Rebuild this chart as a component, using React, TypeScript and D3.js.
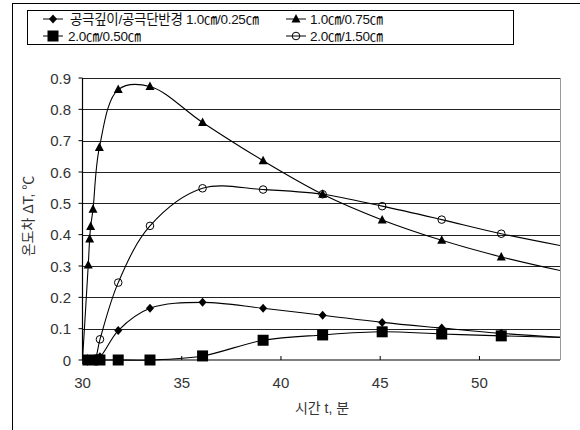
import * as d3 from "d3";

// 시간 (분) / 온도차 (℃)
const diamondT = [30, 30.33, 30.5, 30.88, 31.8, 33.4, 36.05, 39.1, 42.1, 45.1, 48.1, 51.1, 57];
const diamondV = [0, 0, 0, 0.01, 0.094, 0.165, 0.184, 0.165, 0.143, 0.12, 0.102, 0.085, 0.062];

const triangleT = [30, 30.29, 30.36, 30.41, 30.53, 30.85, 31.8, 33.4, 36.05, 39.1, 42.1, 45.1, 48.1, 51.1, 57];
const triangleV = [0, 0.303, 0.386, 0.426, 0.481, 0.678, 0.863, 0.873, 0.758, 0.636, 0.529, 0.447, 0.382, 0.329, 0.245];

const squareT = [30, 30.5, 30.88, 31.8, 33.4, 36.05, 39.1, 42.1, 45.1, 48.1, 51.1, 57];
const squareV = [0, 0, 0, 0, 0, 0.013, 0.063, 0.08, 0.09, 0.083, 0.077, 0.068];

const circleT = [30, 30.33, 30.6, 30.88, 31.8, 33.4, 36.05, 39.1, 42.1, 45.1, 48.1, 51.1, 57];
const circleV = [0, 0, 0, 0.066, 0.247, 0.428, 0.548, 0.544, 0.529, 0.491, 0.448, 0.403, 0.33];

const xTicks = [30, 35, 40, 45, 50];
const yTicks = [0, 0.1, 0.2, 0.3, 0.4, 0.5, 0.6, 0.7, 0.8, 0.9];

type Shape = "diamond" | "triangle" | "square" | "circle";
type Series = { name: string; shape: Shape; t: number[]; v: number[] };

const series: Series[] = [
  { name: "공극깊이/공극단반경 1.0㎝/0.25㎝", shape: "diamond", t: diamondT, v: diamondV },
  { name: "1.0㎝/0.75㎝", shape: "triangle", t: triangleT, v: triangleV },
  { name: "2.0㎝/0.50㎝", shape: "square", t: squareT, v: squareV },
  { name: "2.0㎝/1.50㎝", shape: "circle", t: circleT, v: circleV },
];

const W = 580;
const H = 430;
const plot = { left: 82.5, right: 560, top: 78, bottom: 360 };

const font = "'Liberation Sans', Arial, 'Noto Sans CJK KR', sans-serif";

function Marker({ shape, x, y }: { shape: Shape; x: number; y: number }) {
  if (shape === "diamond") {
    return <path d={`M${x},${y - 4.5}L${x + 4},${y}L${x},${y + 4.5}L${x - 4},${y}Z`} fill="#000" />;
  }
  if (shape === "triangle") {
    return <path d={`M${x},${y - 5}L${x + 4.5},${y + 3.5}L${x - 4.5},${y + 3.5}Z`} fill="#000" />;
  }
  if (shape === "square") {
    return <rect x={x - 5.5} y={y - 5.5} width={11} height={11} fill="#000" />;
  }
  return <circle cx={x} cy={y} r={3.8} fill="none" stroke="#000" strokeWidth={1} />;
}

export default function App() {
  const x = d3.scaleLinear().domain([30, 54.06]).range([plot.left, plot.right]);
  const y = d3.scaleLinear().domain([0, 0.9]).range([plot.bottom, plot.top]);

  const line = d3
    .line<[number, number]>()
    .x((d) => x(d[0]))
    .y((d) => y(d[1]))
    .curve(d3.curveCatmullRom.alpha(0.5));

  const legendPos = [
    { lx: 43, tx: 70, y: 19 },
    { lx: 286, tx: 310, y: 19 },
    { lx: 43, tx: 68, y: 36 },
    { lx: 286, tx: 310, y: 36 },
  ];

  return (
    <svg
      width={W}
      height={H}
      style={{ position: "absolute", left: 0, top: 0, background: "#fff" }}
      fontFamily={font}
    >
      <defs>
        <clipPath id="plotClip">
          <rect x={plot.left} y={plot.top - 10} width={plot.right - plot.left} height={plot.bottom - plot.top + 20} />
        </clipPath>
      </defs>

      {/* outer frame */}
      <rect x={12.5} y={3.5} width={700} height={600} fill="none" stroke="#000" />

      {/* legend */}
      <rect x={27.5} y={10.5} width={486} height={34} fill="#fff" stroke="#000" />
      {series.map((s, i) => {
        const p = legendPos[i];
        return (
          <g key={s.name}>
            <line x1={p.lx} x2={p.lx + 20} y1={p.y} y2={p.y} stroke="#000" />
            <Marker shape={s.shape} x={p.lx + 10} y={p.y} />
            <text x={p.tx} y={p.y + 5} fontSize={13.5} fill="#111" letterSpacing={-0.3}>
              {s.name}
            </text>
          </g>
        );
      })}

      {/* gridlines */}
      {yTicks.slice(1).map((t) => (
        <line key={t} x1={plot.left} x2={plot.right} y1={Math.round(y(t)) + 0.5} y2={Math.round(y(t)) + 0.5} stroke="#222" />
      ))}
      <line x1={plot.right + 0.5} x2={plot.right + 0.5} y1={plot.top} y2={plot.bottom} stroke="#999" />
      <line x1={plot.left} x2={plot.left} y1={plot.top} y2={plot.bottom} stroke="#000" strokeWidth={1.2} />
      <line x1={plot.left} x2={plot.right} y1={plot.bottom} y2={plot.bottom} stroke="#000" strokeWidth={1.2} />

      {/* ticks */}
      {xTicks.map((t) => (
        <g key={t}>
          <line x1={x(t)} x2={x(t)} y1={plot.bottom} y2={plot.bottom - 4} stroke="#000" />
          <text x={x(t)} y={388} textAnchor="middle" fontSize={15} fill="#333">
            {t}
          </text>
        </g>
      ))}
      {yTicks.map((t) => (
        <g key={t}>
          <line x1={plot.left - 4} x2={plot.left} y1={y(t)} y2={y(t)} stroke="#000" />
          <text x={71} y={y(t) + 5.5} textAnchor="end" fontSize={15} fill="#333">
            {t === 0 ? "0" : t.toFixed(1)}
          </text>
        </g>
      ))}

      {/* series */}
      <g clipPath="url(#plotClip)">
        {series.map((s) => (
          <path
            key={s.name}
            d={line(s.t.map((t, i) => [t, s.v[i]] as [number, number])) ?? ""}
            fill="none"
            stroke="#000"
            strokeWidth={1.1}
          />
        ))}
        {series.map((s) =>
          s.t.map((t, i) => <Marker key={s.name + i} shape={s.shape} x={x(t)} y={y(s.v[i])} />)
        )}
      </g>

      {/* axis titles */}
      <text x={322} y={413} textAnchor="middle" fontSize={14} fill="#333">
        시간 t, 분
      </text>
      <text
        transform={`translate(33, 216) rotate(-90)`}
        textAnchor="middle"
        fontSize={14}
        fill="#333"
      >
        온도차 ΔT, ℃
      </text>
    </svg>
  );
}
